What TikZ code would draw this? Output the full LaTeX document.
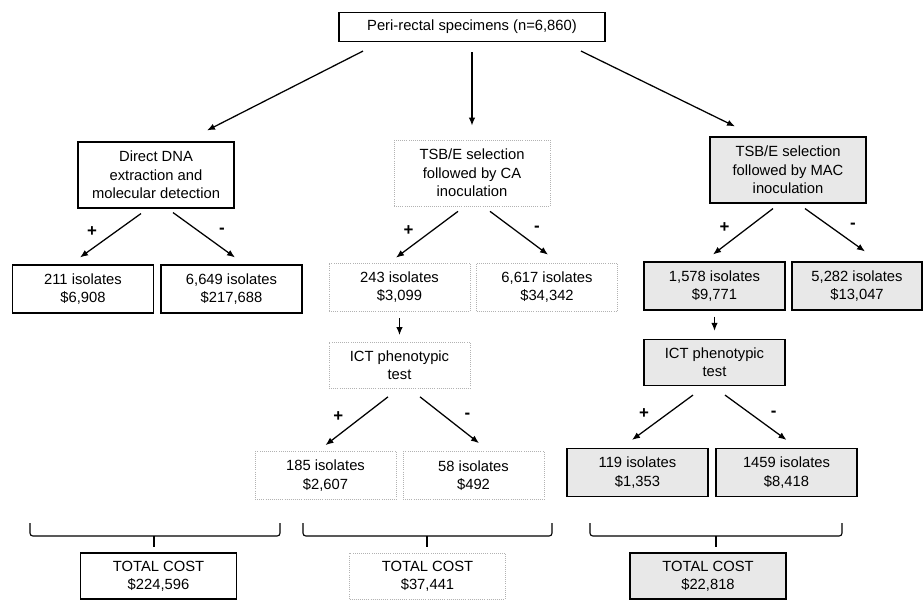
\documentclass[tikz,border=0pt]{standalone}
\usepackage{fontspec}
\setmainfont{Liberation Sans}
\usepackage{tikz}
\usetikzlibrary{arrows.meta}

\begin{document}
\begin{tikzpicture}[
        box/.style={align=center, inner sep=0pt, font=\fontsize{10.5pt}{13pt}\selectfont},
        plainbox/.style={box, draw, line width=0.8pt},
        dotbox/.style={box, draw=gray!60, densely dotted, line width=0.5pt},
        shadebox/.style={box, draw, line width=0.8pt, fill=gray!18},
        wide/.style={minimum width=3.9cm, minimum height=1.65cm},
        cell/.style={minimum width=3.525cm, minimum height=1.2cm},
        arr/.style={-{Latex[length=2mm,width=1.6mm]}, line width=0.9pt},
        plus/.style={font=\large\bfseries, xshift=-0.46cm, yshift=0.1cm},
        minus/.style={font=\large\bfseries, xshift=0.45cm, yshift=0.1cm},
        brace/.style={line width=0.8pt, rounded corners=2pt}
    ]
        \useasboundingbox (0,0) rectangle (23.075,14.975);

        % Proben
        \node[plainbox, minimum width=6.65cm, minimum height=0.725cm] (spec) at (11.8,14.3) {Peri-rectal specimens (n=6,860)};

        % Methoden
        \node[plainbox, wide] (dna) at (3.9,10.6) {Direct DNA\\extraction and\\molecular detection};
        \node[dotbox, wide] (tsbca) at (11.8,10.65) {TSB/E selection\\followed by CA\\inoculation};
        \node[shadebox, wide] (tsbmac) at (19.7,10.725) {TSB/E selection\\followed by MAC\\inoculation};

        % Isolate
        \node[plainbox, cell] (dnapos) at (2.075,7.75) {211 isolates\\\$6,908};
        \node[plainbox, cell] (dnaneg) at (5.7875,7.75) {6,649 isolates\\\$217,688};
        \node[dotbox, cell] (capos) at (9.9875,7.8) {243 isolates\\\$3,099};
        \node[dotbox, cell] (caneg) at (13.675,7.8) {6,617 isolates\\\$34,342};
        \node[shadebox, cell] (macpos) at (17.8625,7.825) {1,578 isolates\\\$9,771};
        \node[shadebox, cell, minimum width=3.25cm] (macneg) at (21.425,7.825) {5,282 isolates\\\$13,047};

        % ICT Test
        \node[dotbox, cell, minimum height=1.15cm] (ictca) at (9.9875,5.8375) {ICT phenotypic\\test};
        \node[shadebox, cell, minimum height=1.15cm] (ictmac) at (17.8625,5.9125) {ICT phenotypic\\test};

        \node[dotbox, cell] (ctpos) at (8.1375,3.0875) {185 isolates\\\$2,607};
        \node[dotbox, cell] (ctneg) at (11.8375,3.0875) {58 isolates\\\$492};
        \node[shadebox, cell] (mtpos) at (15.9375,3.1625) {119 isolates\\\$1,353};
        \node[shadebox, cell] (mtneg) at (19.6625,3.1625) {1459 isolates\\\$8,418};

        % Gesamtkosten
        \node[plainbox, minimum width=3.9cm, minimum height=1.15cm] (totdna) at (3.9625,0.575) {TOTAL COST\\\$224,596};
        \node[dotbox, minimum width=3.9cm, minimum height=1.15cm] (totca) at (10.6875,0.575) {TOTAL COST\\\$37,441};
        \node[shadebox, minimum width=3.9cm, minimum height=1.15cm] (totmac) at (17.7,0.575) {TOTAL COST\\\$22,818};

        % Pfeile
        \draw[arr] ([shift={(-2.725,-0.225)}]spec.south) -- ([shift={(1.275,0.275)}]dna.north);
        \draw[arr] ([yshift=-0.25cm]spec.south) -- ([yshift=0.35cm]tsbca.north);
        \draw[arr] ([shift={(2.725,-0.225)}]spec.south) -- ([shift={(-1.325,0.25)}]tsbmac.north);

        \draw[arr] ([shift={(-0.375,-0.125)}]dna.south) -- node[plus] {+} ([shift={(-0.075,0.175)}]dnapos.north);
        \draw[arr] ([shift={(0.425,-0.1)}]dna.south) -- node[minus] {-} ([shift={(0.0875,0.175)}]dnaneg.north);
        \draw[arr] ([shift={(-0.35,-0.125)}]tsbca.south) -- node[plus] {+} ([shift={(-0.0875,0.125)}]capos.north);
        \draw[arr] ([shift={(0.45,-0.125)}]tsbca.south) -- node[minus] {-} ([shift={(0.025,0.2)}]caneg.north);
        \draw[arr] ([shift={(-0.375,-0.125)}]tsbmac.south) -- node[plus] {+} ([shift={(-0.0375,0.175)}]macpos.north);
        \draw[arr] ([shift={(0.425,-0.125)}]tsbmac.south) -- node[minus] {-} ([shift={(0.2,0.25)}]macneg.north);

        \draw[arr] ([yshift=-0.175cm]capos.south) -- ([yshift=0.175cm]ictca.north);
        \draw[arr] ([yshift=-0.15cm]macpos.south) -- ([yshift=0.2cm]ictmac.north);

        \draw[arr] ([shift={(-0.2875,-0.2)}]ictca.south) -- node[plus] {+} ([shift={(0,0.15)}]ctpos.north);
        \draw[arr] ([shift={(0.5125,-0.2)}]ictca.south) -- node[minus] {-} ([shift={(0.1375,0.2)}]ctneg.north);
        \draw[arr] ([shift={(-0.5375,-0.225)}]ictmac.south) -- node[plus] {+} ([shift={(-0.1375,0.2)}]mtpos.north);
        \draw[arr] ([shift={(0.2625,-0.225)}]ictmac.south) -- node[minus] {-} ([shift={(0,0.2)}]mtneg.north);

        % Klammern
        \draw[brace] (0.75,1.9) -- (0.75,1.575) -- (7.0,1.575) -- (7.0,1.9);
        \draw[brace] (7.575,1.9) -- (7.575,1.575) -- (13.8,1.575) -- (13.8,1.9);
        \draw[brace] (14.75,1.9) -- (14.75,1.575) -- (21.05,1.575) -- (21.05,1.9);
        \draw[line width=0.8pt] (3.85,1.575) -- ++(0,-0.275); % Mitte links
        \draw[line width=0.8pt] (10.675,1.575) -- ++(0,-0.275); % Mitte
        \draw[line width=0.8pt] (17.9,1.575) -- ++(0,-0.275); % Mitte rechts

    \end{tikzpicture}
\end{document}
